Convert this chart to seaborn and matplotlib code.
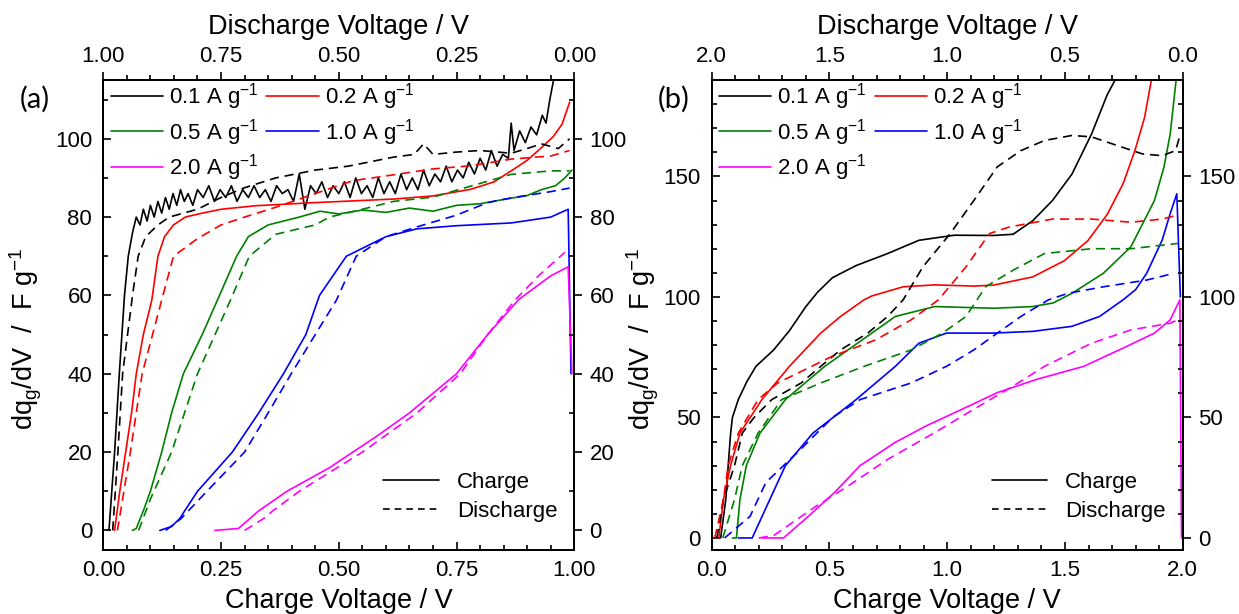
import matplotlib
matplotlib.use("Agg")
import matplotlib.pyplot as plt
from matplotlib.lines import Line2D
from matplotlib.ticker import MultipleLocator, FormatStrFormatter
import seaborn as sns

# ---------------- data ----------------
RATES = ["0.1", "0.2", "0.5", "1.0", "2.0"]
COLORS = ["#000000", "#ff0000", "#008000", "#0000ff", "#ff00ff"]

# Panel (a): charge curves (x = charge voltage), discharge curves (v = discharge voltage)
A_C01_X = [0.012,0.024,0.034,0.045,0.053,0.062,0.070,0.078,0.085,0.093,0.100,0.108,0.116,0.124,0.132,0.140,
           0.148,0.156,0.164,0.172,0.180,0.190,0.200,0.212,0.224,0.236,0.248,0.260,0.272,0.284,0.296,0.308,
           0.320,0.332,0.344,0.356,0.368,0.380,0.392,0.404,0.416,0.428,0.440,0.452,0.464,0.476,0.488,0.500,
           0.512,0.524,0.536,0.548,0.560,0.572,0.584,0.596,0.608,0.620,0.632,0.644,0.656,0.668,0.680,0.692,
           0.704,0.716,0.728,0.740,0.752,0.764,0.776,0.788,0.800,0.812,0.824,0.836,0.848,0.860,0.866,0.872,
           0.884,0.896,0.908,0.920,0.932,0.940,0.948,0.956]
A_C01_Y = [0,20,40,60,70,76,80,78,82,79,83,80,84,81,85,82,
           86,83,87,84,86,83,87,85,88,84,87,85,88,84,87,85,
           88,85,87,84,88,86,87,84,91,82,88,86,89,85,88,86,
           89,85,90,86,88,85,90,86,89,86,91,87,90,87,92,88,
           91,89,93,89,92,90,94,91,95,92,97,93,96,95,104,97,
           102,99,103,101,106,104,110,115]
A_D01_V = [0.98,0.969,0.959,0.938,0.926,0.91,0.884,0.86,0.8,0.75,0.7,0.634,0.55,0.48,0.384,0.34,0.32,0.3,
           0.25,0.2,0.134,0.1,0.07,0.034,0.01]
A_D01_Y = [0,20,40,60,70,75,78,80,82,85,87.5,90,92,93,95.3,96,98.7,96,96.6,97,96.3,97.5,98.7,97.5,100]

A_C02_X = [0.024,0.035,0.0475,0.06,0.07,0.085,0.103,0.116,0.13,0.149,0.174,0.21,0.25,0.324,0.45,0.616,
           0.7,0.78,0.83,0.866,0.9,0.93,0.955,0.974,0.99]
A_C02_Y = [0,10,20,30,40,50,58.8,70,75,78,80,81,82,82.9,83.7,84.6,85.4,87.1,89,91.8,94.5,97.7,100.5,103.7,109.3]
A_D02_V = [0.97,0.9425,0.9175,0.876,0.851,0.8,0.75,0.7,0.634,0.55,0.47,0.4,0.3,0.22,0.134,0.05,0.01]
A_D02_Y = [0,20,40,58.8,70,74.5,78,80,82.5,86,89.3,90.5,92.3,93.1,94.8,95.6,97]

A_C05_X = [0.062,0.07,0.085,0.1,0.124,0.145,0.17,0.21,0.243,0.283,0.308,0.35,0.416,0.46,0.5,0.55,0.6,
           0.65,0.7,0.75,0.8,0.85,0.9,0.93,0.96,0.98,0.995]
A_C05_Y = [0,0.5,5,10,20,30,40,50,59,70,75,78,80,81.5,80.8,81.8,81.2,82.3,81.5,83,83.4,84.5,85.5,87,88,90,92]
A_D05_V = [0.925,0.9,0.855,0.8,0.73,0.69,0.634,0.55,0.52,0.45,0.384,0.3,0.22,0.134,0.05,0.01]
A_D05_Y = [0,8,20,40,58.8,70,75.6,78,80,82,84,85.1,87.9,90.9,91.8,91.8]

A_C10_X = [0.12,0.145,0.162,0.2,0.274,0.33,0.3825,0.43,0.459,0.516,0.6,0.666,0.75,0.866,0.95,0.987,0.993]
A_C10_Y = [0,1,3,10,20,30,40,50,60,70,75,77,77.8,78.5,80,82,40]
A_D10_V = [0.8675,0.835,0.78,0.7,0.65,0.601,0.55,0.505,0.463,0.4,0.334,0.25,0.184,0.134,0.05,0.01]
A_D10_Y = [0,3,10,20,30,40,50,58.8,70,75,77.5,80.5,83.7,84.9,86.5,87.4]

A_C20_X = [0.237,0.287,0.33,0.39,0.48,0.53,0.58,0.65,0.75,0.816,0.8825,0.95,0.987,0.995]
A_C20_Y = [0,0.5,5,10,16,20,24,30,40,50,59,65,67.3,40]
A_D20_V = [0.7,0.66,0.64,0.584,0.45,0.334,0.242,0.184,0.126,0.076,0.02]
A_D20_Y = [0,3,5,10,20,30,40,50,58.8,65,71]

# Panel (b)
B_C01_X = [0.038,0.06,0.07,0.08,0.088,0.113,0.15,0.188,0.263,0.33,0.4,0.45,0.513,0.613,0.747,0.88,1.03,1.197,
           1.28,1.363,1.447,1.53,1.613,1.68,1.713,1.74]
B_C01_Y = [0,16,30,43,50,57.4,65,71.2,78,86,96,102,108,113,118,123.5,125.6,125.5,
           126,131.6,140,151,167.6,184,190,198]
B_D01_V = [1.978,1.95,1.903,1.87,1.82,1.745,1.62,1.537,1.453,1.337,1.253,1.187,1.103,0.987,0.887,0.787,0.687,
           0.587,0.47,0.387,0.253,0.17,0.087,0.03,0.01]
B_D01_Y = [0,16,30,43.5,50,57.4,64.3,71.2,78,85,91.9,98.8,112.5,126.3,140,154,160.7,164.9,167,166.4,162,159.3,
           158.6,160.7,167.6]

B_C02_X = [0.03,0.05,0.08,0.12,0.213,0.33,0.463,0.547,0.647,0.68,0.813,0.947,1.113,1.197,1.363,1.497,1.597,
           1.68,1.747,1.797,1.838,1.867,1.875]
B_C02_Y = [0,16,30,43.5,57.4,71.2,85,91.9,98.8,100.4,104.2,105,104.5,104.9,108.3,115,123.3,134.3,147,160.7,
           174.4,190,195]
B_D02_V = [1.987,1.95,1.93,1.887,1.803,1.72,1.49,1.303,1.153,1.037,0.92,0.82,0.737,0.553,0.387,0.22,0.087,0.02]
B_D02_Y = [0,16,30,43.5,57.4,64.3,75.3,82.2,90.5,98.8,112.5,126.3,129,132.3,132.3,131,132.3,134]

B_C05_X = [0.088,0.105,0.12,0.147,0.205,0.313,0.48,0.68,0.78,0.947,1.197,1.363,1.45,1.53,1.663,1.78,1.88,
           1.92,1.947,1.972,1.98]
B_C05_Y = [0,0,16,30,43.5,57.4,71.2,85,91.9,96,95.3,96,97.5,101.5,109.8,120.8,140,153.7,167.6,190,195]
B_D05_V = [1.953,1.903,1.87,1.803,1.703,1.537,1.353,1.153,1.02,0.92,0.837,0.72,0.587,0.387,0.22,0.02]
B_D05_Y = [0,16,30,43.5,57.4,64.3,71.2,78,85,91.9,104.2,111.1,118,120,120,122.2]

B_C10_X = [0.113,0.172,0.247,0.313,0.43,0.613,0.78,0.88,0.997,1.197,1.363,1.53,1.647,1.747,1.8,1.847,1.913,
           1.947,1.975,1.99]
B_C10_Y = [0,0,16,30,43.5,57.4,71.2,80.8,85,85,85.7,87.8,91.9,98.8,103,109.8,123.6,134.6,142.8,100]
B_D10_V = [1.945,1.837,1.77,1.62,1.487,1.37,1.153,1.003,0.887,0.787,0.687,0.57,0.487,0.337,0.153,0.037]
B_D10_Y = [0,9,23,37,50,57.4,64.3,71.2,78,85,91.9,98.8,101.5,104.2,107,109.8]

B_C20_X = [0.213,0.305,0.413,0.522,0.63,0.78,0.913,1.063,1.213,1.38,1.58,1.763,1.88,1.947,1.988,1.995]
B_C20_Y = [0,0,9.2,18.9,30,39.7,46.6,53.4,60.3,65.8,71.2,79.5,85,90.5,98.8,0]
B_D20_V = [1.8,1.737,1.553,1.42,1.253,1.053,0.887,0.72,0.587,0.387,0.22,0.053,0.01]
B_D20_Y = [0,1,13.4,21.6,32.6,43.7,53.4,63,71.2,80.8,86.3,89.1,91]

# ---------------- style ----------------
sns.set_style("ticks", rc={"axes.edgecolor": "black", "xtick.color": "black", "ytick.color": "black",
                           "text.color": "black", "axes.labelcolor": "black"})
plt.rcParams["font.family"] = ["Liberation Sans", "DejaVu Sans"]
plt.rcParams["mathtext.fontset"] = "custom"
plt.rcParams["mathtext.rm"] = "Liberation Sans"
plt.rcParams["mathtext.it"] = "Liberation Sans:italic"
plt.rcParams["mathtext.bf"] = "Liberation Sans:bold"

LW = 1.2
DASH = (0, (5.5, 3.5))
W, H = 1239, 614
FS_TICK = 16
FS_XLAB = 19.5
FS_YLAB = 19.5
FS_LEG = 16

fig = plt.figure(figsize=(W / 100, H / 100), dpi=100)


def px_axes(left, top, right, bottom):
    return fig.add_axes([left / W, 1 - bottom / H, (right - left) / W, (bottom - top) / H])


def draw_panel(ax, charge, discharge, vmax, ylim, xmaj, xmin, ymaj, fmt, tag, tag_x, ylab_x, ax_w):
    axt = ax.twiny()
    axr = ax.twinx()
    for (x, y), col in zip(charge, COLORS):
        sns.lineplot(x=x, y=y, ax=ax, color=col, lw=LW, sort=False, estimator=None, legend=False)
    for (v, y), col in zip(discharge, COLORS):
        sns.lineplot(x=v, y=y, ax=axt, color=col, lw=LW, linestyle=DASH, sort=False,
                     estimator=None, legend=False)
    ax.set_xlim(0, vmax)
    axt.set_xlim(vmax, 0)
    ax.set_ylim(*ylim)
    axr.set_ylim(*ylim)
    axt.set_ylim(*ylim)

    for a in (ax, axt):
        a.xaxis.set_major_locator(MultipleLocator(xmaj))
        a.xaxis.set_minor_locator(MultipleLocator(xmin))
        a.xaxis.set_major_formatter(FormatStrFormatter(fmt))
    for a in (ax, axr):
        a.yaxis.set_major_locator(MultipleLocator(ymaj))
        a.yaxis.set_minor_locator(MultipleLocator(10))
        a.yaxis.set_major_formatter(FormatStrFormatter("%d"))

    ax.tick_params(axis="x", which="both", direction="in", top=False, labelsize=FS_TICK, pad=7, width=1.2)
    ax.tick_params(axis="x", which="major", length=6)
    ax.tick_params(axis="x", which="minor", length=3.5)
    ax.tick_params(axis="y", which="both", direction="in", right=False, labelsize=FS_TICK, pad=8, width=1.2)
    ax.tick_params(axis="y", which="major", length=6)
    ax.tick_params(axis="y", which="minor", length=3.5)
    axt.tick_params(axis="x", which="both", direction="out", labelsize=FS_TICK, pad=3, width=1.2)
    axt.tick_params(axis="x", which="major", length=6)
    axt.tick_params(axis="x", which="minor", length=3.5)
    axr.tick_params(axis="y", which="major", direction="out", length=6, labelsize=FS_TICK, pad=5, width=1.2)
    axr.tick_params(axis="y", which="minor", direction="in", length=3.5, width=1.2)

    for a in (ax, axt, axr):
        for s in a.spines.values():
            s.set_linewidth(1.4)

    ax.set_xlabel("Charge Voltage / V", fontsize=FS_XLAB)
    ax.xaxis.set_label_coords(0.5, -0.08)
    axt.set_xlabel("Discharge Voltage / V", fontsize=FS_XLAB)
    axt.xaxis.set_label_coords(0.5, 1.098)
    ax.set_ylabel(r"dq$_{\mathregular{g}}$/dV  /  F g$^{\mathregular{-1}}$", fontsize=FS_YLAB)
    ax.yaxis.set_label_coords(ylab_x, 0.45)
    axr.set_ylabel("")

    # legends
    handles = [Line2D([], [], color=c, lw=LW) for c in COLORS]
    labels = [r + r" A g$^{\mathregular{-1}}$" for r in RATES]
    order = [0, 2, 4, 1, 3]
    leg1 = axr.legend([handles[i] for i in order], [labels[i] for i in order], ncol=2,
                      loc="upper left", bbox_to_anchor=(7.4 / ax_w, 1 - 1.5 / 470), frameon=False,
                      fontsize=FS_LEG, handlelength=2.35, handletextpad=0.27, columnspacing=0.36,
                      labelspacing=0.2, borderpad=0, borderaxespad=0)
    axr.add_artist(leg1)
    mode_h = [Line2D([], [], color="black", lw=LW), Line2D([], [], color="black", lw=LW, linestyle=(0, (4, 3)))]
    axr.legend(mode_h, ["Charge", "Discharge"], loc="lower right",
               bbox_to_anchor=(1 - 17 / ax_w, 28 / 470), frameon=False, fontsize=FS_LEG,
               handlelength=2.5, handletextpad=0.8, labelspacing=0.35, borderpad=0, borderaxespad=0)

    fig.text(tag_x / W, 1 - 99 / H, tag, ha="center", va="center", fontsize=21,
             family=["Lato", "DejaVu Sans"])


axA = px_axes(103.3, 80, 574.3, 550)
axB = px_axes(711.7, 80, 1182.7, 550)

draw_panel(axA,
           [(A_C01_X, A_C01_Y), (A_C02_X, A_C02_Y), (A_C05_X, A_C05_Y), (A_C10_X, A_C10_Y), (A_C20_X, A_C20_Y)],
           [(A_D01_V, A_D01_Y), (A_D02_V, A_D02_Y), (A_D05_V, A_D05_Y), (A_D10_V, A_D10_Y), (A_D20_V, A_D20_Y)],
           1.0, (-5, 115), 0.25, 0.05, 20, "%.2f", "(a)", 34.5, -0.125, 471)
draw_panel(axB,
           [(B_C01_X, B_C01_Y), (B_C02_X, B_C02_Y), (B_C05_X, B_C05_Y), (B_C10_X, B_C10_Y), (B_C20_X, B_C20_Y)],
           [(B_D01_V, B_D01_Y), (B_D02_V, B_D02_Y), (B_D05_V, B_D05_Y), (B_D10_V, B_D10_Y), (B_D20_V, B_D20_Y)],
           2.0, (-5, 190), 0.5, 0.1, 50, "%.1f", "(b)", 673.5, -0.108, 471)

fig.savefig("out.png", dpi=100)
